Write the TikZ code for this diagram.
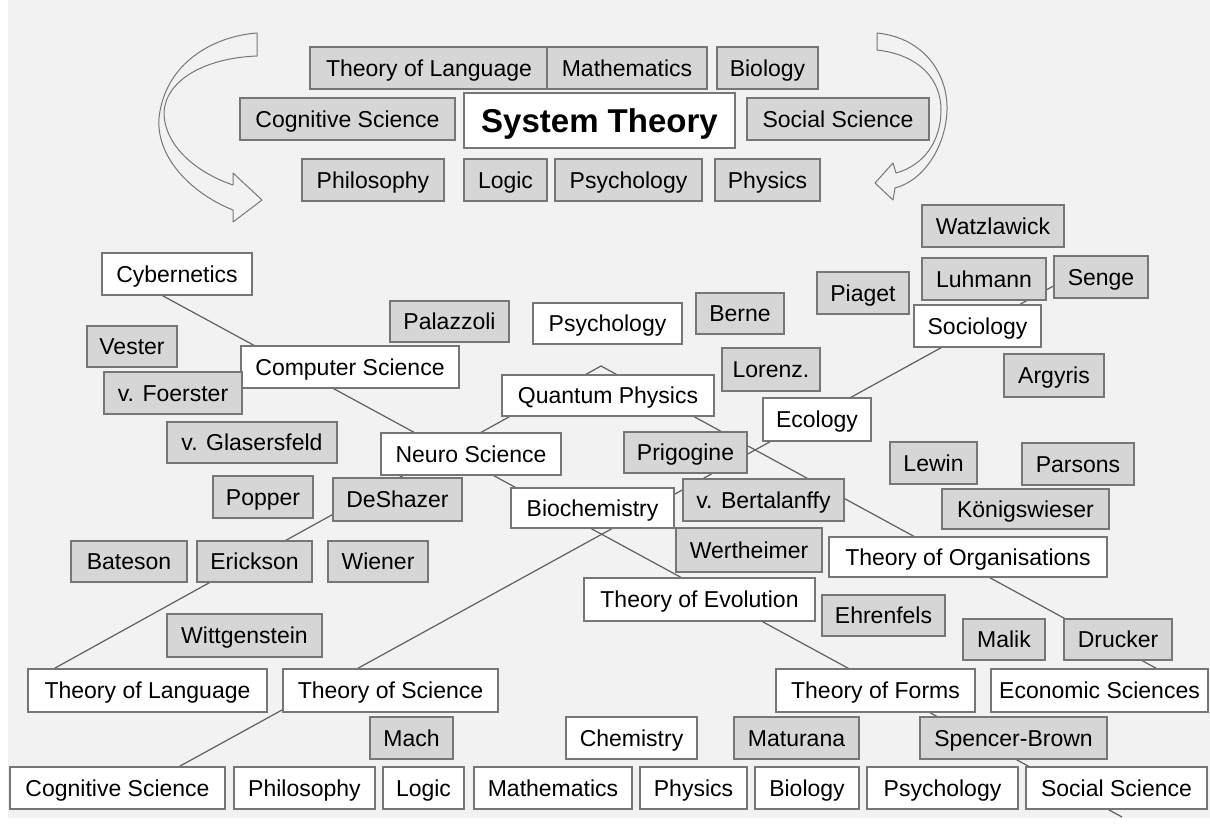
\documentclass[tikz,border=0pt]{standalone}
\usepackage{fontspec}
\setmainfont{Liberation Sans}
\usetikzlibrary{backgrounds,shadows}

\definecolor{paper}{RGB}{242,242,242}
\definecolor{boxgray}{RGB}{214,214,214}
\definecolor{edge}{RGB}{118,118,118}
\definecolor{shade}{RGB}{90,90,90}
\definecolor{wire}{RGB}{95,95,95}

\tikzset{
  basebox/.style={draw=edge, line width=1.2pt, inner sep=0pt, text=black,
    font=\fontsize{23}{27}\selectfont, text height=18pt, text depth=2pt,
    drop shadow={shadow xshift=1.3pt, shadow yshift=-1.3pt, fill=shade, opacity=0.9}},
  gbox/.style={basebox, fill=boxgray},
  wbox/.style={basebox, fill=white},
  titlebox/.style={basebox, fill=white, font=\fontsize{33}{38}\selectfont\bfseries,
    text height=26pt, text depth=2pt},
  conn/.style={draw=wire, line width=1.2pt},
  bendarrow/.style={draw=edge, line width=1pt, line join=round},
}

% box from its corners (x1,y1)-(x2,y2) in pixel units, y pointing down
\newcommand{\tbox}[7]{%
  \node[#6, minimum width={(#4-#2)*1pt}, minimum height={(#5-#3)*1pt}]
    (#1) at ({(#2+#4)/2},{(#3+#5)/2}) {#7};}

\begin{document}
\begin{tikzpicture}[x=1pt, y=-1pt]
\useasboundingbox (0,0) rectangle (1210,825);

% ---- top: the disciplines around system theory ----
\tbox{tLang}{310}{47}{548}{89}{gbox}{Theory of Language}
\tbox{tMath}{547}{47}{707}{89}{gbox}{Mathematics}
\tbox{tBio}{717}{47}{818}{89}{gbox}{Biology}
\tbox{tCog}{240}{98}{455}{140}{gbox}{Cognitive Science}
\tbox{sys}{464}{93}{735}{148}{titlebox}{System Theory}
\tbox{tSoc}{747}{98}{929}{140}{gbox}{Social Science}
\tbox{tPhil}{302}{159}{444}{201}{gbox}{Philosophy}
\tbox{tLogic}{464}{159}{547}{201}{gbox}{Logic}
\tbox{tPsy}{555}{159}{702}{201}{gbox}{Psychology}
\tbox{tPhys}{715}{159}{820}{201}{gbox}{Physics}

% curved block arrows
\draw[bendarrow] (257,33) .. controls (215,36) and (165,62) .. (159,118)
  .. controls (156,160) and (195,195) .. (233,210) -- (233,222) -- (262,200)
  -- (233,173) -- (233,185) .. controls (195,172) and (164,145) .. (164,112)
  .. controls (166,80) and (205,58) .. (257,56) -- cycle;
\draw[bendarrow] (877,33) .. controls (925,38) and (948,75) .. (947,110)
  .. controls (946,145) and (925,180) .. (895,188) -- (893,200) -- (875,183)
  -- (893,163) -- (896,173) .. controls (925,165) and (941,140) .. (941,110)
  .. controls (941,80) and (920,55) .. (877,50) -- cycle;

% ---- middle: sciences and people ----
\tbox{cyb}{102}{253}{252}{295}{wbox}{Cybernetics}
\tbox{vester}{87}{326}{177}{367}{gbox}{Vester}
\tbox{pal}{390}{301}{509}{342}{gbox}{Palazzoli}
\tbox{psy}{533}{303}{682}{344}{wbox}{Psychology}
\tbox{berne}{696}{293}{784}{334}{gbox}{Berne}
\tbox{comp}{241}{346}{459}{388}{wbox}{Computer Science}
\tbox{foer}{104}{372}{242}{414}{gbox}{v. Foerster}
\tbox{lorenz}{722}{348}{820}{391}{gbox}{Lorenz.}
\tbox{qp}{502}{375}{714}{416}{wbox}{Quantum Physics}
\tbox{glas}{167}{422}{337}{463}{gbox}{v. Glasersfeld}
\tbox{neuro}{381}{433}{561}{475}{wbox}{Neuro Science}
\tbox{prig}{624}{432}{747}{473}{gbox}{Prigogine}
\tbox{eco}{763}{398}{871}{441}{wbox}{Ecology}
\tbox{watz}{922}{205}{1064}{247}{gbox}{Watzlawick}
\tbox{luh}{922}{258}{1046}{300}{gbox}{Luhmann}
\tbox{senge}{1054}{256}{1148}{298}{gbox}{Senge}
\tbox{piaget}{817}{272}{909}{314}{gbox}{Piaget}
\tbox{soc}{914}{305}{1041}{347}{wbox}{Sociology}
\tbox{argy}{1004}{354}{1104}{397}{gbox}{Argyris}
\tbox{lewin}{890}{442}{977}{484}{gbox}{Lewin}
\tbox{pars}{1022}{443}{1134}{485}{gbox}{Parsons}
\tbox{koenig}{942}{489}{1109}{529}{gbox}{Königswieser}
\tbox{popper}{213}{476}{313}{518}{gbox}{Popper}
\tbox{desh}{333}{478}{462}{521}{gbox}{DeShazer}
\tbox{bioch}{511}{488}{674}{528}{wbox}{Biochemistry}
\tbox{bert}{683}{479}{844}{521}{gbox}{v. Bertalanffy}
\tbox{wert}{676}{528}{822}{572}{gbox}{Wertheimer}
\tbox{org}{829}{537}{1107}{577}{wbox}{Theory of Organisations}
\tbox{bates}{71}{541}{187}{582}{gbox}{Bateson}
\tbox{erick}{197}{541}{312}{582}{gbox}{Erickson}
\tbox{wien}{328}{541}{428}{582}{gbox}{Wiener}
\tbox{evo}{584}{578}{815}{621}{wbox}{Theory of Evolution}
\tbox{ehr}{822}{595}{945}{636}{gbox}{Ehrenfels}
\tbox{witt}{167}{614}{322}{657}{gbox}{Wittgenstein}
\tbox{malik}{963}{619}{1045}{660}{gbox}{Malik}
\tbox{druck}{1064}{619}{1172}{660}{gbox}{Drucker}
\tbox{tol}{28}{669}{267}{712}{wbox}{Theory of Language}
\tbox{tos}{283}{669}{498}{712}{wbox}{Theory of Science}
\tbox{forms}{776}{669}{975}{712}{wbox}{Theory of Forms}
\tbox{econ}{991}{669}{1208}{712}{wbox}{Economic Sciences}
\tbox{mach}{370}{717}{453}{759}{gbox}{Mach}
\tbox{chem}{566}{717}{697}{759}{wbox}{Chemistry}
\tbox{mat}{734}{717}{859}{759}{gbox}{Maturana}
\tbox{spb}{920}{717}{1107}{759}{gbox}{Spencer-Brown}

% ---- bottom row ----
\tbox{cogb}{10}{767}{225}{809}{wbox}{Cognitive Science}
\tbox{philb}{234}{767}{375}{809}{wbox}{Philosophy}
\tbox{logb}{383}{767}{464}{809}{wbox}{Logic}
\tbox{mathb}{474}{767}{632}{809}{wbox}{Mathematics}
\tbox{physb}{640}{767}{747}{809}{wbox}{Physics}
\tbox{biob}{755}{767}{859}{809}{wbox}{Biology}
\tbox{psyb}{867}{767}{1018}{809}{wbox}{Psychology}
\tbox{socb}{1026}{767}{1207}{809}{wbox}{Social Science}

\coordinate (apex) at (601,366);
\coordinate (tail) at (1122,817);

% ---- long connectors, running behind the boxes ----
\begin{pgfonlayer}{background}
  \fill[white] (0,0) rectangle (1210,825);
  \fill[paper] (8,0) rectangle (1210,818);
  \draw[conn] ([xshift=61pt]cyb.south west) -- (tail);
  \draw[conn] ([yshift=-9pt]senge.west) -- ([xshift=170pt]cogb.north west);
  \draw[conn] ([xshift=27pt]tol.north west) -- (apex) -- ([xshift=166pt]econ.north west);
\end{pgfonlayer}
\end{tikzpicture}
\end{document}
